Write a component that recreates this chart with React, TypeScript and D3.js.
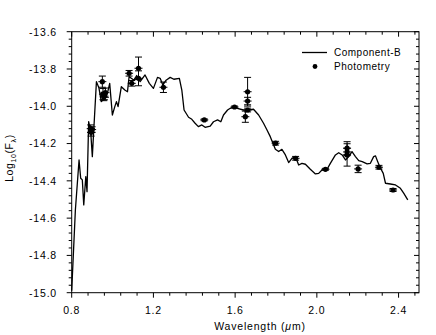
import React from "react";
import * as d3 from "d3";

// Model spectrum (Component-B): wavelength (μm), log10 flux
const modelWave = [0.8, 0.818, 0.836, 0.844, 0.852, 0.859, 0.869, 0.875, 0.883, 0.893, 0.901, 0.908, 0.921, 0.933, 0.945, 0.962, 0.975, 0.986, 0.999, 1.011, 1.019, 1.027, 1.043, 1.06, 1.073, 1.081, 1.092, 1.105, 1.118, 1.135, 1.159, 1.18, 1.2, 1.22, 1.233, 1.246, 1.262, 1.282, 1.3, 1.327, 1.339, 1.35, 1.372, 1.388, 1.404, 1.42, 1.437, 1.453, 1.478, 1.494, 1.514, 1.53, 1.543, 1.563, 1.576, 1.592, 1.611, 1.641, 1.666, 1.69, 1.715, 1.739, 1.756, 1.772, 1.788, 1.797, 1.813, 1.829, 1.846, 1.862, 1.878, 1.895, 1.911, 1.927, 1.944, 1.968, 1.993, 2.009, 2.025, 2.042, 2.05, 2.066, 2.091, 2.107, 2.124, 2.14, 2.156, 2.172, 2.189, 2.205, 2.222, 2.246, 2.262, 2.278, 2.287, 2.298, 2.308, 2.325, 2.336, 2.36, 2.385, 2.409, 2.425, 2.445];
const modelFlux = [-14.99, -14.556, -14.288, -14.386, -14.395, -14.529, -14.377, -14.458, -14.083, -14.136, -14.27, -14.127, -13.868, -13.9, -13.975, -13.957, -13.93, -13.877, -14.047, -14.002, -13.975, -14.002, -13.895, -13.913, -13.922, -13.841, -13.85, -13.86, -13.835, -13.868, -13.832, -13.877, -13.904, -13.845, -13.85, -13.886, -13.86, -13.845, -13.855, -13.85, -13.913, -14.02, -14.059, -14.07, -14.091, -14.109, -14.1, -14.113, -14.106, -14.083, -14.073, -14.083, -14.047, -14.02, -14.011, -14.005, -14.011, -14.02, -14.02, -14.016, -14.047, -14.091, -14.127, -14.163, -14.207, -14.231, -14.243, -14.231, -14.261, -14.302, -14.279, -14.27, -14.315, -14.306, -14.311, -14.338, -14.363, -14.36, -14.342, -14.338, -14.338, -14.306, -14.261, -14.249, -14.261, -14.288, -14.27, -14.243, -14.27, -14.292, -14.297, -14.309, -14.306, -14.27, -14.266, -14.297, -14.324, -14.36, -14.413, -14.417, -14.422, -14.44, -14.466, -14.502];

// Photometry: wavelength, log10 flux, error
const photWave = [0.893, 0.895, 0.9, 0.95, 0.953, 0.96, 0.965, 0.957, 1.081, 1.094, 1.127, 1.127, 1.249, 1.449, 1.597, 1.661, 1.661, 1.661, 1.65, 1.798, 1.896, 2.042, 2.148, 2.148, 2.148, 2.202, 2.304, 2.373];
const photFlux = [-14.12, -14.14, -14.125, -13.868, -13.935, -13.945, -13.927, -13.95, -13.823, -13.877, -13.796, -13.85, -13.898, -14.073, -14.004, -14.02, -13.922, -13.972, -14.056, -14.198, -14.279, -14.338, -14.261, -14.225, -14.245, -14.336, -14.327, -14.449];
const photErr = [0.02, 0.02, 0.015, 0.03, 0.03, 0.02, 0.025, 0.02, 0.015, 0.015, 0.06, 0.04, 0.028, 0.005, 0.005, 0.01, 0.077, 0.02, 0.03, 0.01, 0.01, 0.005, 0.06, 0.035, 0.02, 0.02, 0.01, 0.008];

const xMajor = [0.8, 1.2, 1.6, 2.0, 2.4];
const yMajor = [-13.6, -13.8, -14.0, -14.2, -14.4, -14.6, -14.8, -15.0];
const legendLabels = ["Component-B", "Photometry"];

export default function App() {
  const W = 436, H = 335;
  const left = 71.7, right = 419, top = 31.7, bottom = 292.7;
  const x = d3.scaleLinear().domain([0.8, 2.5]).range([left, right]);
  const y = d3.scaleLinear().domain([-15.0, -13.6]).range([bottom, top]);
  const xMinor = d3.range(0, 22).map((i) => 0.8 + i * 0.08).filter((v) => v <= 2.5001);
  const yMinor = d3.range(0, 36).map((i) => -15.0 + i * 0.04).filter((v) => v <= -13.5999);
  const line = d3.line<number>().x((_, i) => x(modelWave[i])).y((d) => y(d));
  const isMajorX = (v: number) => xMajor.some((m) => Math.abs(m - v) < 1e-6);
  const isMajorY = (v: number) => yMajor.some((m) => Math.abs(m - v) < 1e-6);
  const font = "'Liberation Sans', Arial, sans-serif";
  return (
    <svg width={W} height={H} style={{ position: "absolute", left: 0, top: 0, background: "#fff" }} fontFamily={font}>
      <rect x={0} y={0} width={W} height={H} fill="#fff" />
      {/* frame */}
      <rect x={left} y={top} width={right - left} height={bottom - top} fill="none" stroke="#000" strokeWidth={1} />
      {/* x ticks */}
      {xMinor.map((v, i) => {
        const len = isMajorX(v) ? 5 : 3;
        return (
          <g key={"xt" + i}>
            <line x1={x(v)} x2={x(v)} y1={bottom} y2={bottom + len} stroke="#000" />
            <line x1={x(v)} x2={x(v)} y1={top} y2={top + len} stroke="#000" />
          </g>
        );
      })}
      {yMinor.map((v, i) => {
        const len = isMajorY(v) ? 5 : 3;
        return (
          <g key={"yt" + i}>
            <line x1={left - len} x2={left} y1={y(v)} y2={y(v)} stroke="#000" />
            <line x1={right - len} x2={right} y1={y(v)} y2={y(v)} stroke="#000" />
          </g>
        );
      })}
      {xMajor.map((v) => (
        <text key={"xl" + v} x={x(v)} y={314} textAnchor="middle" fontSize={10.5} letterSpacing={0.8}>
          {v.toFixed(1)}
        </text>
      ))}
      {yMajor.map((v) => (
        <text key={"yl" + v} x={57} y={y(v) + 3.8} textAnchor="end" fontSize={10.5} letterSpacing={0.8}>
          {v.toFixed(1)}
        </text>
      ))}
      <text x={260} y={330} textAnchor="middle" fontSize={10.5} letterSpacing={0.8}>
        Wavelength (<tspan fontStyle="italic">μ</tspan>m)
      </text>
      <text transform={`translate(12.5,158) rotate(-90)`} textAnchor="middle" fontSize={10.5} letterSpacing={0.6}>
        Log<tspan fontSize={7} dy={3}>10</tspan>
        <tspan dy={-3}>(F</tspan>
        <tspan fontSize={7} dy={3}>λ</tspan>
        <tspan dy={-3}>)</tspan>
      </text>
      {/* model curve */}
      <path d={line(modelFlux) || ""} fill="none" stroke="#000" strokeWidth={1.3} strokeLinejoin="round" />
      {/* photometry */}
      {photWave.map((w, i) => {
        const cx = x(w), cy = y(photFlux[i]);
        const y1 = y(photFlux[i] + photErr[i]), y2 = y(photFlux[i] - photErr[i]);
        return (
          <g key={"p" + i}>
            <line x1={cx} x2={cx} y1={y1} y2={y2} stroke="#000" strokeWidth={1} />
            <line x1={cx - 3.5} x2={cx + 3.5} y1={y1} y2={y1} stroke="#000" strokeWidth={1} />
            <line x1={cx - 3.5} x2={cx + 3.5} y1={y2} y2={y2} stroke="#000" strokeWidth={1} />
            <line x1={cx - 4} x2={cx + 4} y1={cy} y2={cy} stroke="#000" strokeWidth={1} />
            <circle cx={cx} cy={cy} r={2.6} fill="#000" />
          </g>
        );
      })}
      {/* legend */}
      <line x1={302} x2={327} y1={52.5} y2={52.5} stroke="#000" strokeWidth={1.3} />
      <text x={334} y={56} fontSize={10} letterSpacing={0.5}>{legendLabels[0]}</text>
      <circle cx={315} cy={66.5} r={2.4} fill="#000" />
      <text x={334} y={70} fontSize={10} letterSpacing={0.5}>{legendLabels[1]}</text>
    </svg>
  );
}
